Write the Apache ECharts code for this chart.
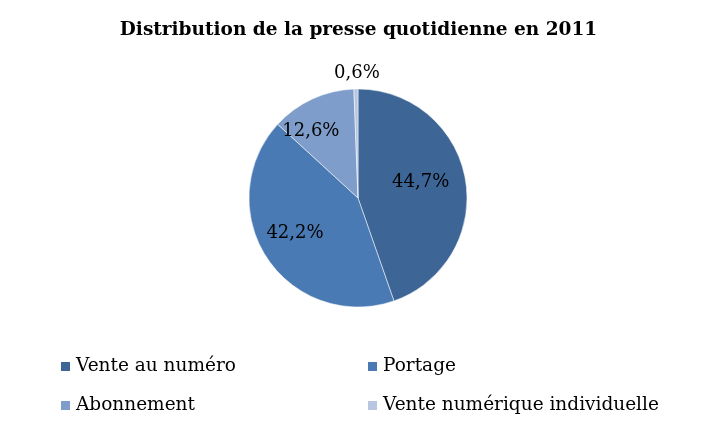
<!DOCTYPE html>
<html><head><meta charset="utf-8">
<script src="https://cdn.jsdelivr.net/npm/echarts@6/dist/echarts.min.js"></script>
<style>html,body{margin:0;padding:0;background:#fff}#c{width:717px;height:433px}</style>
</head><body><div id="c"></div>
<script>
var categories = ['Vente au numéro', 'Portage', 'Abonnement', 'Vente numérique individuelle'];
var values = [44.7, 42.2, 12.6, 0.6];
var colors = ['#3D6596', '#4A7AB4', '#7F9DCA', '#B8C6E1'];
var labelOffsets = [[6, -6], [-15, 4], [-23, -14], [0, -67]];
var font = 'DejaVu Serif';
var chart = echarts.init(document.getElementById('c'));
var data = categories.map(function (n, i) {
  return { name: n, value: values[i], itemStyle: { color: colors[i] }, label: { offset: labelOffsets[i] } };
});
var legendText = { fontFamily: font, fontSize: 18.5, color: '#000' };
chart.setOption({
  animation: false,
  title: {
    text: 'Distribution de la presse quotidienne en 2011',
    left: 'center', top: 16,
    textStyle: { fontFamily: font, fontSize: 18.5, fontWeight: 'bold', color: '#000' }
  },
  legend: [{
    orient: 'vertical', left: 54, top: 352, itemGap: 20,
    itemWidth: 11, itemHeight: 11, icon: 'rect',
    data: [categories[0], categories[2]],
    textStyle: legendText
  }, {
    orient: 'vertical', left: 361, top: 352, itemGap: 20,
    itemWidth: 11, itemHeight: 11, icon: 'rect',
    data: [categories[1], categories[3]],
    textStyle: legendText
  }],
  series: [{
    type: 'pie',
    center: [358, 198],
    radius: 109,
    startAngle: 90,
    clockwise: true,
    avoidLabelOverlap: false,
    itemStyle: { borderColor: '#fff', borderWidth: 0.5 },
    label: {
      show: true, position: 'inside',
      formatter: function (p) { return p.value.toFixed(1).replace('.', ',') + '%'; },
      fontFamily: font, fontSize: 18, color: '#000'
    },
    labelLine: { show: false },
    emphasis: { disabled: true },
    data: data
  }]
});
</script></body></html>
